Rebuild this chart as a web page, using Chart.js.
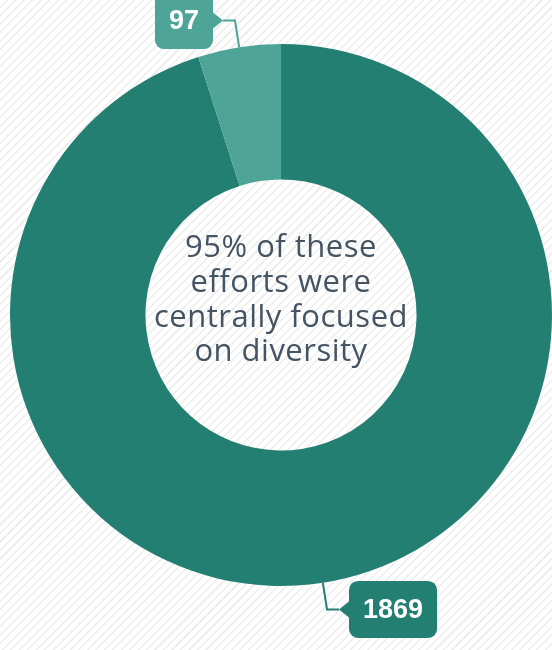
<!DOCTYPE html>
<html>
<head>
<meta charset="utf-8">
<script src="https://cdn.jsdelivr.net/npm/chart.js@4.4.1/dist/chart.umd.min.js"></script>
<style>
    html, body { margin: 0; padding: 0; }
    body {
        width: 552px; height: 650px; overflow: hidden;
        background: #fff repeating-linear-gradient(135deg, #fff 0px, #fff 4.5px, #eeeeee 4.5px, #eeeeee 6px);
    }
    canvas { display: block; }
</style>
</head>
<body>
<canvas id="donutChart" width="552" height="650"></canvas>
<script>
var labels = ['Centrally focused on diversity', 'Other'];
var values = [1869, 97];
var colors = ['#237f72', '#4da497'];
var centerLines = ['95% of these', 'efforts were', 'centrally focused', 'on diversity'];

// center text
var centerText = {
    id: 'centerText',
    afterDraw: function (chart) {
        var ctx = chart.ctx;
        var arc = chart.getDatasetMeta(0).data[0];
        ctx.save();
        ctx.fillStyle = '#455463';
        ctx.font = '31px "Open Sans", sans-serif';
        ctx.letterSpacing = '0.5px';
        ctx.textAlign = 'center';
        ctx.textBaseline = 'alphabetic';
        var offs = [-58, -23, 12, 46];
        centerLines.forEach(function (line, i) {
            ctx.fillText(line, arc.x, arc.y + offs[i]);
        });
        ctx.restore();
    }
};

// callout boxes with leader lines
var callouts = {
    id: 'callouts',
    afterDraw: function (chart) {
        var ctx = chart.ctx;
        var meta = chart.getDatasetMeta(0);
        meta.data.forEach(function (arc, i) {
            var mid = (arc.startAngle + arc.endAngle) / 2;
            var r = arc.outerRadius;
            var x0 = arc.x + Math.cos(mid) * r;
            var y0 = arc.y + Math.sin(mid) * r;
            var x1 = arc.x + Math.cos(mid) * (r + 27);
            var y1 = arc.y + Math.sin(mid) * (r + 27);
            var dir = x1 < arc.x ? -1 : 1;
            var x2 = x1 + dir * 12;
            var col = colors[i];

            ctx.save();
            ctx.strokeStyle = col;
            ctx.lineWidth = 2;
            ctx.beginPath();
            ctx.moveTo(x0, y0);
            ctx.lineTo(x1, y1);
            ctx.lineTo(x2, y1);
            ctx.stroke();

            var txt = String(values[i]);
            ctx.font = 'bold 27px "Liberation Sans", Arial, sans-serif';
            var tw = ctx.measureText(txt).width;
            var bw = tw + 28, bh = 57, rad = 9, pw = 10, ph = 8;
            var bx = dir > 0 ? x2 + pw : x2 - pw - bw;
            var by = y1 - bh / 2;

            ctx.fillStyle = col;
            ctx.beginPath();
            ctx.roundRect(bx, by, bw, bh, rad);
            ctx.fill();
            // pointer
            ctx.beginPath();
            var edge = dir > 0 ? bx : bx + bw;
            ctx.moveTo(edge, y1 - ph);
            ctx.lineTo(x2, y1);
            ctx.lineTo(edge, y1 + ph);
            ctx.closePath();
            ctx.fill();

            ctx.fillStyle = '#fff';
            ctx.textAlign = 'center';
            ctx.textBaseline = 'middle';
            ctx.fillText(txt, bx + bw / 2, y1 + 1);
            ctx.restore();
        });
    }
};

var ctx = document.getElementById('donutChart');
var donutChart = new Chart(ctx, {
    type: 'doughnut',
    data: {
        labels: labels,
        datasets: [{
            data: values,
            backgroundColor: colors,
            borderWidth: 0
        }]
    },
    options: {
        responsive: false,
        maintainAspectRatio: false,
        animation: false,
        cutout: '50%',
        layout: { padding: { left: 10, right: 0, top: 44, bottom: 64 } },
        plugins: {
            legend: { display: false },
            tooltip: { enabled: false }
        }
    },
    plugins: [centerText, callouts]
});
</script>
</body>
</html>
